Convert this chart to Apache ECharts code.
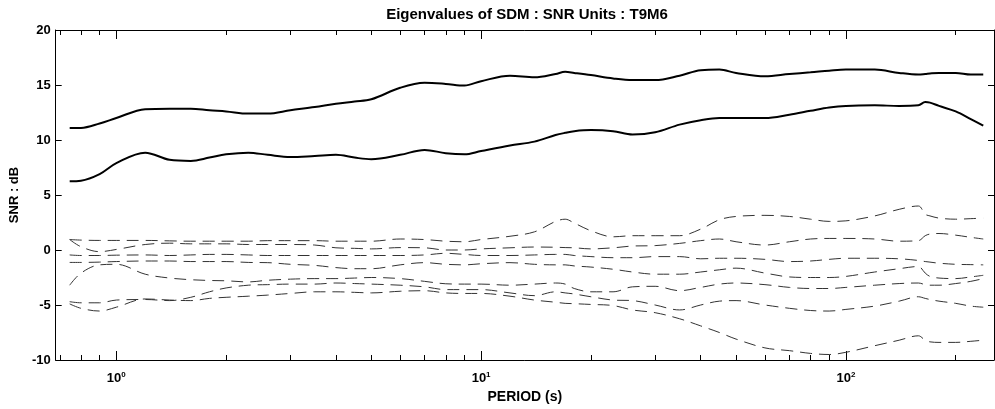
<!DOCTYPE html>
<html>
<head>
<meta charset="utf-8">
<script src="https://cdn.jsdelivr.net/npm/echarts@6/dist/echarts.min.js"></script>
<style>
html,body{margin:0;padding:0;background:#fff;}
#chart{width:995px;height:409px;}
</style>
</head>
<body>
<div id="chart"></div>
<script>
// Period grid (s)
const periods = [0.745, 0.8, 0.9, 1.0, 1.2, 1.4, 1.6, 1.8, 2, 2.3, 2.6, 3, 3.5, 4, 4.5, 5, 6, 7, 8, 9, 10, 12, 14, 16, 17, 18, 20, 23, 26, 30, 35, 40, 45, 50, 60, 70, 80, 90, 100, 120, 140, 158, 165, 170, 180, 200, 220, 238];

// Eigenvalues (dB)
const eig1 = [11.1, 11.1, 11.5, 12.0, 12.8, 12.85, 12.85, 12.7, 12.6, 12.4, 12.4, 12.7, 13.0, 13.3, 13.5, 13.7, 14.75, 15.2, 15.1, 14.95, 15.35, 15.85, 15.7, 16.0, 16.2, 16.1, 15.9, 15.6, 15.45, 15.45, 15.85, 16.35, 16.4, 16.1, 15.8, 16.0, 16.15, 16.3, 16.4, 16.4, 16.1, 15.95, 16.0, 16.05, 16.1, 16.1, 15.95, 15.95];
const eig2 = [6.25, 6.3, 6.9, 7.9, 8.85, 8.2, 8.1, 8.4, 8.7, 8.85, 8.65, 8.45, 8.55, 8.65, 8.4, 8.25, 8.65, 9.1, 8.8, 8.7, 9.0, 9.5, 9.85, 10.45, 10.65, 10.8, 10.9, 10.8, 10.5, 10.7, 11.4, 11.8, 12.0, 12.0, 12.0, 12.3, 12.65, 12.95, 13.1, 13.15, 13.1, 13.15, 13.45, 13.4, 13.1, 12.6, 11.9, 11.3];
const eig3 = [0.95, 0.9, 0.87, 0.87, 0.87, 0.83, 0.8, 0.8, 0.8, 0.8, 0.85, 0.85, 0.85, 0.8, 0.8, 0.8, 1.0, 0.95, 0.8, 0.75, 0.95, 1.25, 1.65, 2.6, 2.8, 2.45, 1.75, 1.2, 1.3, 1.3, 1.3, 1.9, 2.75, 3.05, 3.15, 3.05, 2.8, 2.6, 2.65, 3.1, 3.7, 4.0, 3.25, 3.1, 2.9, 2.8, 2.85, 2.9];
const eig4 = [0.95, 0.3, -0.15, 0.05, 0.5, 0.62, 0.56, 0.56, 0.56, 0.5, 0.5, 0.5, 0.45, 0.2, 0.15, 0.1, 0.22, 0.2, 0.0, 0.0, 0.1, 0.2, 0.27, 0.25, 0.22, 0.2, 0.1, 0.2, 0.36, 0.4, 0.6, 0.85, 1.0, 0.75, 0.45, 0.75, 1.0, 1.05, 1.05, 1.0, 0.8, 0.85, 1.3, 1.45, 1.5, 1.35, 1.15, 1.0];
const eig5 = [-0.45, -0.5, -0.5, -0.47, -0.45, -0.5, -0.45, -0.4, -0.4, -0.45, -0.5, -0.5, -0.5, -0.5, -0.5, -0.5, -0.5, -0.45, -0.3, -0.4, -0.5, -0.5, -0.45, -0.4, -0.4, -0.5, -0.6, -0.7, -0.7, -0.6, -0.6, -0.8, -0.75, -0.75, -0.85, -1.05, -1.0, -0.85, -0.75, -0.75, -0.8, -0.95, -1.05, -1.1, -1.2, -1.3, -1.33, -1.35];
const eig6 = [-1.13, -1.13, -1.1, -1.05, -1.0, -1.0, -1.05, -1.05, -1.05, -1.13, -1.15, -1.3, -1.4, -1.6, -1.7, -1.7, -1.35, -1.15, -1.3, -1.35, -1.25, -1.15, -1.3, -1.35, -1.35, -1.45, -1.55, -1.75, -2.0, -2.2, -2.2, -2.0, -1.8, -1.65, -2.1, -2.45, -2.5, -2.5, -2.4, -2.0, -1.7, -1.5, -2.1, -2.4, -2.55, -2.6, -2.45, -2.3];
const eig7 = [-3.2, -2.1, -1.35, -1.3, -2.2, -2.55, -2.7, -2.77, -2.8, -2.9, -2.75, -2.65, -2.6, -2.6, -2.55, -2.5, -2.6, -2.85, -3.07, -3.1, -3.1, -3.2, -3.1, -3.0, -3.1, -3.5, -3.8, -3.8, -3.35, -3.3, -3.7, -3.4, -3.1, -3.0, -3.15, -3.4, -3.5, -3.5, -3.4, -3.2, -3.05, -3.0, -3.15, -3.2, -3.2, -3.05, -2.85, -2.6];
const eig8 = [-4.7, -4.8, -4.8, -4.55, -4.5, -4.6, -4.3, -3.8, -3.45, -3.2, -3.15, -3.1, -3.1, -3.0, -3.05, -3.1, -3.2, -3.35, -3.6, -3.6, -3.6, -3.9, -4.15, -3.8, -3.9, -4.0, -4.25, -4.55, -4.6, -5.0, -5.45, -5.0, -4.65, -4.6, -5.0, -5.3, -5.5, -5.55, -5.4, -5.1, -4.65, -4.25, -4.4, -4.5, -4.65, -4.85, -5.1, -5.2];
const eig9 = [-4.9, -5.3, -5.55, -5.2, -4.45, -4.55, -4.6, -4.4, -4.3, -4.2, -4.1, -3.95, -3.8, -3.8, -3.85, -3.9, -3.75, -3.7, -3.9, -3.95, -3.95, -4.2, -4.55, -4.75, -4.85, -4.88, -4.95, -5.05, -5.45, -5.7, -6.25, -6.9, -7.5, -8.1, -8.9, -9.15, -9.4, -9.5, -9.3, -8.7, -8.2, -7.8, -8.2, -8.35, -8.4, -8.4, -8.3, -8.2];

// Axis ticks / labels
const xMajorTicks = [1, 10, 100];
const xMinorTicks = [0.7, 0.8, 0.9, 2, 3, 4, 5, 6, 7, 8, 9, 20, 30, 40, 50, 60, 70, 80, 90, 200];
const xMin = 0.682, xMax = 254.7;
const yMin = -10, yMax = 20, yStep = 5;

const FONT = 'Liberation Sans, Arial, Helvetica, sans-serif';
const chart = echarts.init(document.getElementById('chart'), null, {renderer: 'canvas'});

function pairs(arr) { return periods.map((p, i) => [p, arr[i]]); }

const solidSeries = [eig1, eig2].map(a => ({
  type: 'line', data: pairs(a), symbol: 'none', smooth: 0.35,
  lineStyle: {color: '#000', width: 2}, silent: true, z: 3
}));
const dashedSeries = [eig3, eig4, eig5, eig6, eig7, eig8, eig9].map(a => ({
  type: 'line', data: pairs(a), symbol: 'none', smooth: 0.35,
  lineStyle: {color: '#333', width: 1, type: [12, 7]}, silent: true, z: 2
}));

function xAx(pos, major) {
  return {
    type: 'log', logBase: 10, min: xMin, max: xMax, position: pos,
    axisLine: {show: !major, onZero: false, lineStyle: {color: '#000', width: 1}},
    axisTick: {show: true, inside: true, length: major ? 9 : 5,
      customValues: major ? xMajorTicks : xMinorTicks,
      lineStyle: {color: '#000', width: 1}},
    axisLabel: (major && pos === 'bottom') ? {
      show: true, customValues: xMajorTicks, margin: 11,
      formatter: v => '10{s|' + Math.round(Math.log10(v)) + '}',
      color: '#000', fontFamily: FONT, fontSize: 13, fontWeight: 'bold',
      rich: {s: {fontSize: 8, fontFamily: FONT, color: '#000', padding: [0, 0, 7, 0]}}
    } : {show: false},
    splitLine: {show: false}, minorTick: {show: false},
    name: (major && pos === 'bottom') ? 'PERIOD (s)' : '',
    nameLocation: 'middle', nameGap: 30,
    nameTextStyle: {color: '#000', fontFamily: FONT, fontSize: 14, fontWeight: 'bold'}
  };
}

const option = {
  backgroundColor: '#fff',
  animation: false,
  title: {
    text: 'Eigenvalues of SDM : SNR Units : T9M6',
    left: 522, top: 2, textAlign: 'center',
    textStyle: {color: '#000', fontFamily: FONT, fontSize: 15, fontWeight: 'bold'}
  },
  grid: {left: 50, right: 1, top: 30, bottom: 43, containLabel: false},
  xAxis: [xAx('bottom', false), xAx('bottom', true), xAx('top', false), xAx('top', true)],
  yAxis: [
    {
      type: 'value', min: yMin, max: yMax, interval: yStep, position: 'left',
      axisLine: {show: true, onZero: false, lineStyle: {color: '#000'}},
      axisTick: {show: true, inside: true, length: 6, lineStyle: {color: '#000'}},
      axisLabel: {color: '#000', fontFamily: FONT, fontSize: 13, fontWeight: 'bold', margin: 5},
      splitLine: {show: false},
      name: 'SNR : dB', nameLocation: 'middle', nameGap: 32, nameRotate: 90,
      nameTextStyle: {color: '#000', fontFamily: FONT, fontSize: 13, fontWeight: 'bold'}
    },
    {
      type: 'value', min: yMin, max: yMax, interval: yStep, position: 'right',
      axisLine: {show: true, onZero: false, lineStyle: {color: '#000'}},
      axisTick: {show: true, inside: true, length: 6, lineStyle: {color: '#000'}},
      axisLabel: {show: false}, splitLine: {show: false}
    }
  ],
  series: [...dashedSeries, ...solidSeries]
};
chart.setOption(option);
</script>
</body>
</html>
